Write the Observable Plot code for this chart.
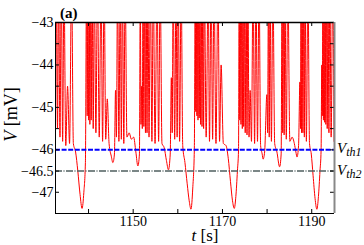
<!DOCTYPE html>
<html><head><meta charset="utf-8">
<script src="https://cdn.jsdelivr.net/npm/d3@7"></script>
<script src="https://cdn.jsdelivr.net/npm/@observablehq/plot@0.6"></script>
<style>html,body{margin:0;padding:0;background:#fff;overflow:hidden}#chart svg{display:block}</style>
</head><body><div id="chart"></div>
<script>
const xDomain = [1132.6, 1195.1];
const yDomain = [-47.5, -43];
const xTickValues = [1140, 1150, 1160, 1170, 1180, 1190];
const xLabelValues = [1150, 1170, 1190];
const yTickValues = [-47.5, -47, -46.5, -46, -45.5, -45, -44.5, -44, -43.5, -43];
const yLabelValues = [-47, -46.5, -46, -45, -44, -43];
const yLabelTexts = ["−47", "−46.5", "−46", "−45", "−44", "−43"];
const vth1 = -46, vth2 = -46.5;

const spikeT = [
  1132.8, 1133.3, 1133.9, 1134.5, 1135.3, 1136.2,
  1139.55, 1139.85, 1140.15, 1140.45, 1140.8, 1141.3, 1142.0, 1142.8, 1143.5, 1144.2,
  1146.05, 1146.5, 1147.1, 1147.6, 1148.2,
  1151.6, 1151.9, 1152.2, 1152.55, 1152.9, 1153.3, 1153.85, 1154.5, 1155.35, 1156.05,
  1158.55, 1158.95, 1159.6, 1160.1, 1160.75,
  1163.9, 1164.15, 1164.4, 1164.65, 1164.95, 1165.25, 1165.6, 1165.95, 1166.8, 1167.45, 1168.1, 1169.0, 1169.7,
  1173.75, 1174.0, 1174.3, 1174.6, 1174.9, 1175.3, 1175.7, 1176.2, 1176.85, 1177.5, 1178.2,
  1179.95, 1180.3, 1180.65, 1181.3,
  1183.35, 1183.65, 1184.0, 1184.65,
  1187.35, 1187.6, 1187.85, 1188.2, 1188.5, 1189.15,
  1192.25, 1192.5, 1192.75, 1193.0, 1193.3, 1193.65, 1194.05, 1194.7
];
const spikePeak = [
  -42, -42, -42, -42, -44.5, -42,
  -42, -42, -42, -42, -42, -42, -42, -42, -42, -44.8,
  -44.6, -42, -42, -42, -42,
  -42, -44.5, -42, -42, -42, -42, -42, -42, -42, -42,
  -44.3, -42, -42, -42, -42,
  -42, -42, -42, -42, -42, -42, -42, -42, -42, -42, -42, -42, -44.0,
  -42, -42, -42, -42, -42, -42, -42, -44.6, -42, -42, -42,
  -44.7, -42, -42, -42,
  -42, -42, -42, -42,
  -44.4, -42, -42, -42, -42, -42,
  -44.0, -42, -42, -42, -42, -42, -42, -42
];
const baseT = [
  1132.6, 1133.05, 1133.6, 1134.2, 1134.9, 1135.75, 1136.6, 1137.1, 1137.6, 1138.1, 1138.55, 1138.95, 1139.3,
  1139.7, 1140.0, 1140.3, 1140.6, 1141.05, 1141.65, 1142.4, 1143.15, 1143.85, 1144.6, 1145.1, 1145.45, 1145.8,
  1146.25, 1146.8, 1147.35, 1147.9, 1148.6, 1149.1, 1149.6, 1150.1, 1150.6, 1151.05, 1151.4,
  1151.75, 1152.05, 1152.4, 1152.75, 1153.1, 1153.55, 1154.2, 1154.9, 1155.7, 1156.45, 1156.95, 1157.45, 1157.9, 1158.3,
  1158.75, 1159.3, 1159.85, 1160.4, 1161.1, 1161.6, 1162.1, 1162.55, 1162.95, 1163.35, 1163.7,
  1164.02, 1164.27, 1164.52, 1164.8, 1165.1, 1165.42, 1165.78, 1166.35, 1167.1, 1167.8, 1168.55, 1169.35,
  1170.2, 1170.8, 1171.3, 1171.8, 1172.25, 1172.65, 1173.0, 1173.35, 1173.6,
  1173.87, 1174.15, 1174.45, 1174.75, 1175.1, 1175.5, 1175.95, 1176.5, 1177.2, 1177.85, 1178.55, 1178.9, 1179.1, 1179.45,
  1180.12, 1180.48, 1180.97, 1181.7, 1182.2, 1182.8, 1183.15,
  1183.5, 1183.82, 1184.3, 1185.1, 1185.6, 1186.1, 1186.45, 1186.7, 1187.05,
  1187.48, 1187.72, 1188.02, 1188.35, 1188.8, 1189.5, 1189.9, 1190.3, 1190.75, 1191.15, 1191.5, 1191.85, 1192.1,
  1192.37, 1192.62, 1192.87, 1193.15, 1193.47, 1193.85, 1194.35, 1195.0
];
const baseV = [
  -45.6, -45.5, -45.7, -45.8, -45.9, -45.85, -45.85, -46.05, -46.5, -47.05, -47.38, -47.0, -46.3,
  -45.2, -45.3, -45.4, -45.3, -45.5, -45.6, -45.7, -45.8, -45.75, -45.85, -46.15, -46.3, -46.1,
  -45.7, -45.8, -45.75, -45.85, -45.7, -45.6, -45.75, -45.7, -46.05, -46.38, -46.1,
  -45.4, -45.5, -45.45, -45.6, -45.6, -45.7, -45.8, -45.85, -45.8, -45.85, -45.95, -46.25, -46.47, -46.1,
  -45.6, -45.75, -45.7, -45.8, -45.9, -46.3, -46.8, -47.2, -47.4, -46.9, -46.0,
  -45.1, -45.2, -45.3, -45.25, -45.4, -45.45, -45.5, -45.7, -45.8, -45.75, -45.85, -45.8,
  -45.85, -45.9, -46.2, -46.75, -47.2, -47.38, -47.1, -46.5, -46.0,
  -45.3, -45.4, -45.5, -45.45, -45.6, -45.65, -45.7, -45.8, -45.85, -45.8, -45.9, -46.1, -46.22, -46.05,
  -45.6, -45.7, -45.8, -45.85, -46.05, -46.4, -46.1,
  -45.6, -45.65, -45.75, -45.8, -45.7, -45.85, -46.05, -46.17, -45.9,
  -45.5, -45.6, -45.6, -45.7, -45.8, -45.85, -46.1, -46.6, -47.15, -47.4, -47.1, -46.5, -46.0,
  -45.2, -45.3, -45.35, -45.4, -45.5, -45.6, -45.7, -45.8
];

const trace = [
  ...spikeT.map((t, i) => ({t, v: spikePeak[i]})),
  ...baseT.map((t, i) => ({t, v: baseV[i]}))
].sort((a, b) => a.t - b.t);

const W = 364, H = 245, mL = 55, mR = 30, mT = 22, mB = 32;
const plotW = W - mL - mR, plotH = H - mT - mB;
const tick = 4;
const font = "Liberation Serif, DejaVu Serif, serif";

const plot = Plot.plot({
  width: W, height: H,
  marginLeft: mL, marginRight: mR, marginTop: mT, marginBottom: mB,
  x: {domain: xDomain},
  y: {domain: yDomain},
  style: {fontFamily: font, fontSize: "14px", background: "white", color: "black"},
  marks: [
    Plot.line(trace, {x: "t", y: "v", stroke: "#ff0000", strokeWidth: 1, curve: "monotone-x", clip: true}),
    Plot.ruleY([vth2], {stroke: "#4f5f5f", strokeWidth: 1.5, strokeDasharray: "7,1.5,1,1.5"}),
    Plot.ruleY([vth1], {stroke: "#0000ff", strokeWidth: 2, strokeDasharray: "5,1.6"}),
    Plot.ruleX(xTickValues, {stroke: "black", insetTop: plotH - tick}),
    Plot.ruleX(xTickValues, {stroke: "black", insetBottom: plotH - tick}),
    Plot.ruleY(yTickValues, {stroke: "black", insetRight: plotW - tick}),
    Plot.ruleY(yTickValues, {stroke: "black", insetLeft: plotW - tick}),
    Plot.ruleY([yDomain[0]], {stroke: "black", strokeWidth: 1}),
    Plot.ruleX([xDomain[0]], {stroke: "black", strokeWidth: 1}),
    Plot.ruleY([yDomain[1]], {stroke: "black", strokeWidth: 1.5}),
    Plot.ruleX([xDomain[1]], {stroke: "#888", strokeWidth: 2}),
    Plot.axisX(xLabelValues, {tickSize: 0, tickPadding: 3, label: null, fontSize: 14, fontFamily: font,
      tickFormat: d => String(d)}),
    Plot.axisY(yLabelValues, {tickSize: 0, tickPadding: 2, label: null, fontSize: 14, fontFamily: font,
      tickFormat: d => yLabelTexts[yLabelValues.indexOf(d)]})
  ]
});
document.getElementById("chart").appendChild(plot);

const svg = d3.select(plot);
const ys = plot.scale("y");

const yl = svg.append("text")
  .attr("transform", `translate(17,${mT + plotH / 2 - 3}) rotate(-90)`)
  .attr("text-anchor", "middle").attr("font-family", font).attr("font-size", 18).attr("fill", "black");
yl.append("tspan").attr("font-style", "italic").text("V");
yl.append("tspan").text(" [mV]");

const xl = svg.append("text")
  .attr("x", 205).attr("y", 241)
  .attr("text-anchor", "middle").attr("font-family", font).attr("font-size", 17).attr("fill", "black");
xl.append("tspan").attr("font-style", "italic").text("t");
xl.append("tspan").text(" [s]");

svg.append("text").attr("x", 60).attr("y", 18).attr("text-anchor", "start").attr("font-family", font)
  .attr("font-size", 15).attr("font-weight", "bold").attr("fill", "black").text("(a)");

[[vth1, "th1"], [vth2, "th2"]].forEach(([v, sub]) => {
  const t = svg.append("text").attr("x", mL + plotW + 3).attr("y", ys.apply(v) + 4)
    .attr("text-anchor", "start")
    .attr("font-family", font).attr("font-size", 15).attr("fill", "black").attr("font-style", "italic");
  t.append("tspan").text("V");
  t.append("tspan").attr("font-size", 12).attr("dy", 3).text(sub);
});
</script>
</body></html>
